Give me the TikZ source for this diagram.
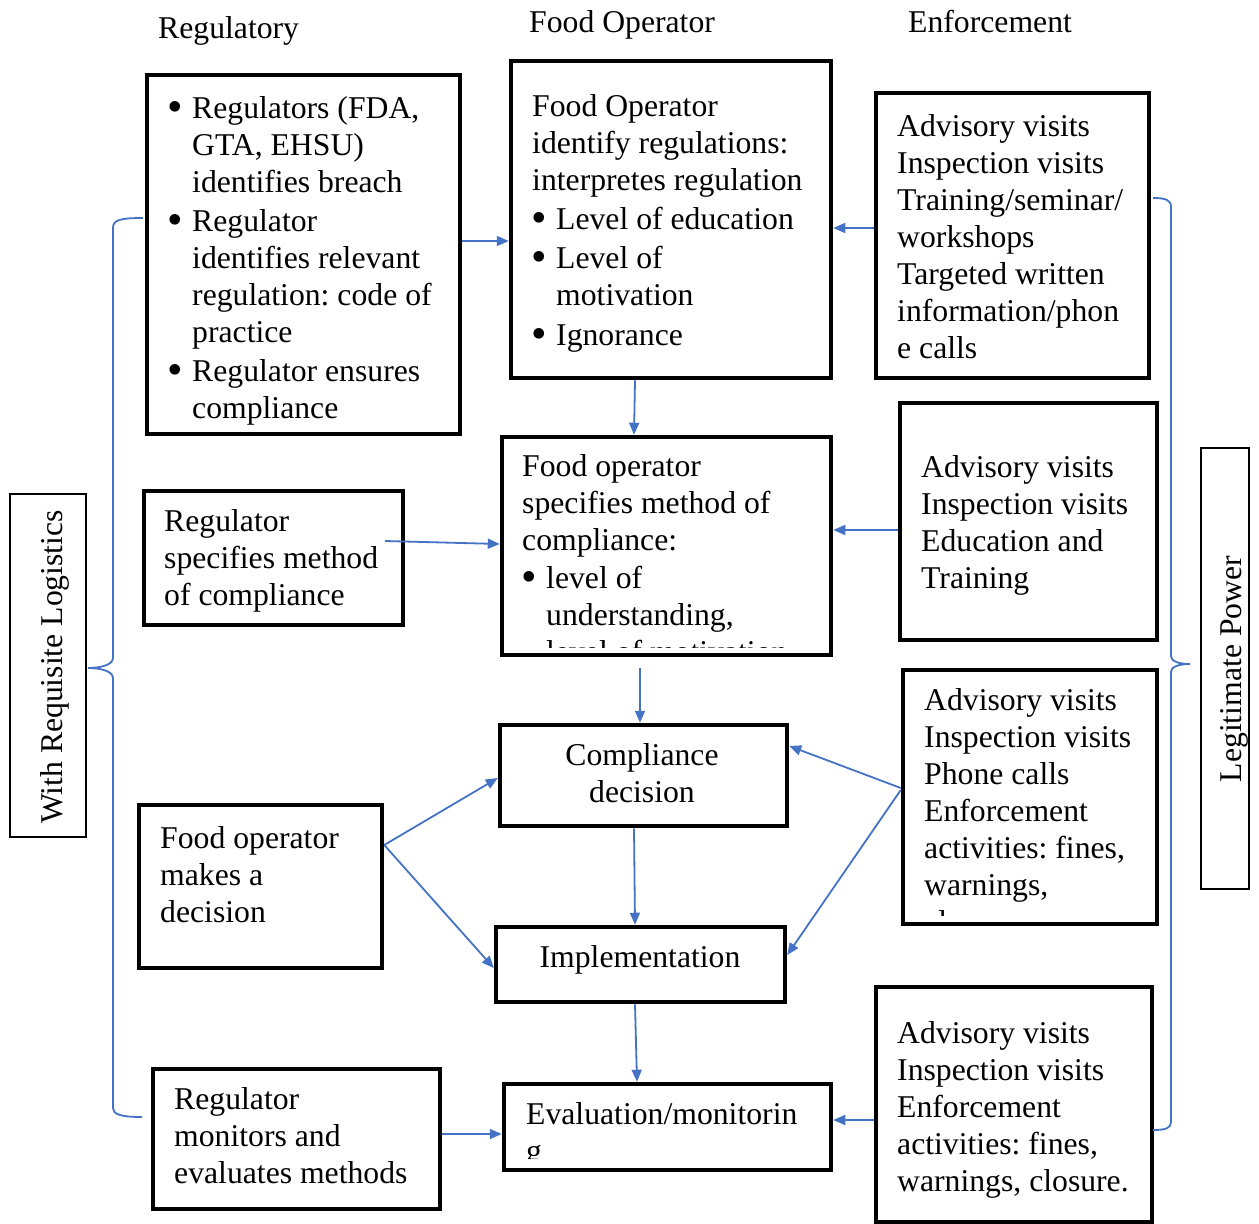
\documentclass[tikz,border=0pt]{standalone}
\usepackage{fontspec}
\setmainfont{Liberation Serif}
\usetikzlibrary{arrows.meta,fit}
\definecolor{arrowblue}{RGB}{68,114,196}
\frenchspacing
\newcommand\bul{\llap{\raisebox{-3.5pt}[0pt][0pt]{\scalebox{1.4}{\textbullet}}\hspace{9pt}}}
\newcommand\ind{\hspace*{24pt}}
\begin{document}
\begin{tikzpicture}[x=1pt,y=-1pt,
  frame/.style={draw=black,line width=4.5pt,inner sep=0pt},
  sideframe/.style={draw=black,line width=1.3pt,inner sep=0pt},
  txt/.style={anchor=north west,inner sep=0pt,align=left,font=\fontsize{31.7}{37}\selectfont},
  ctxt/.style={anchor=north,inner sep=0pt,align=center,font=\fontsize{31.7}{37}\selectfont},
  head/.style={anchor=base west,inner sep=0pt,font=\fontsize{31.7}{37}\selectfont},
  flow/.style={draw=arrowblue,line width=1.8pt,-{Triangle[length=12pt,width=10pt]}},
  brace/.style={draw=arrowblue,line width=1.8pt}]
\useasboundingbox (0,0) rectangle (1259,1224);

% column headings
\node[head] (hreg) at (158,38) {Regulatory};
\node[head] (hfood) at (529,32) {Food Operator};
\node[head] (henf) at (908,32) {Enforcement};

% boxes
\node[frame,fit={(147,75) (460,434)}] (b1) {};
\node[frame,fit={(511,61) (831,378)}] (b2) {};
\node[frame,fit={(876,93) (1149,378)}] (b3) {};
\node[frame,fit={(144,491) (403,625)}] (b4) {};
\node[frame,fit={(502,437) (831,655)}] (b5) {};
\node[frame,fit={(900,403) (1157,640)}] (b6) {};
\node[frame,fit={(500,725) (787,826)}] (b7) {};
\node[frame,fit={(139,805) (382,968)}] (b8) {};
\node[frame,fit={(496,927) (785,1002)}] (b9) {};
\node[frame,fit={(903,670) (1157,924)}] (b10) {};
\node[frame,fit={(153,1069) (440,1209)}] (b11) {};
\node[frame,fit={(504,1084) (831,1170)}] (b12) {};
\node[frame,fit={(876,987) (1152,1222)}] (b13) {};

% side frames
\node[sideframe,fit={(10,494) (86,837)}] (sl) {};
\node[sideframe,fit={(1201,448) (1249,889)}] (sr) {};
\node[anchor=base,rotate=90,inner sep=0pt,font=\fontsize{31.7}{37}\selectfont] (tl) at (62,667) {With Requisite Logistics};
\node[anchor=base,rotate=90,inner sep=0pt,font=\fontsize{31.7}{37}\selectfont] (tr) at (1241,669) {Legitimate Power};

% box texts
\node[txt] (t1) at (192,118-25.9) {\strut\bul Regulators (FDA,\\ GTA, EHSU)\\ identifies breach\\[2pt]
  \bul Regulator\\ identifies relevant\\ regulation: code of\\ practice\\[2pt]
  \bul Regulator ensures\\ compliance};
\node[txt] (t2) at (532,116-25.9) {\strut Food Operator\\ identify regulations:\\ interpretes regulation\\[2pt]
  \ind\bul Level of education\\[2pt] \ind\bul Level of\\ \ind motivation\\[3pt] \ind\bul Ignorance};
\node[txt] (t3) at (897,136-25.9) {\strut Advisory visits\\ Inspection visits\\ Training/seminar/\\ workshops\\
  Targeted written\\ information/phon\\ e calls};
\node[txt] (t4) at (164,531-25.9) {\strut Regulator\\ specifies method\\ of compliance};
\begin{scope}
  \clip (504,439) rectangle (829,647);
  \node[txt] (t5) at (522,476-25.9) {\strut Food operator\\ specifies method of\\ compliance:\\[1pt]
    \ind\bul level of\\ \ind understanding,\\ \ind level of motivation};
\end{scope}
\node[txt] (t6) at (921,477-25.9) {\strut Advisory visits\\ Inspection visits\\ Education and\\ Training};
\node[ctxt] (t7) at (642,765-25.9) {\strut Compliance\\ decision};
\node[txt] (t8) at (160,848-25.9) {\strut Food operator\\ makes a\\ decision};
\node[ctxt] (t9) at (640,967-25.9) {\strut Implementation};
\begin{scope}
  \clip (905,672) rectangle (1155,915);
  \node[txt] (t10) at (924,710-25.9) {\strut Advisory visits\\ Inspection visits\\ Phone calls\\ Enforcement\\
    activities: fines,\\ warnings,\\ closure.};
\end{scope}
\node[txt] (t11) at (174,1109-25.9) {\strut Regulator\\ monitors and\\ evaluates methods};
\begin{scope}
  \clip (506,1086) rectangle (829,1158);
  \node[txt] (t12) at (526,1124-25.9) {\strut Evaluation/monitorin\\ g};
\end{scope}
\node[txt] (t13) at (897,1043-25.9) {\strut Advisory visits\\ Inspection visits\\ Enforcement\\
  activities: fines,\\ warnings, closure.};

% connectors
\coordinate (b4out) at (385,541);
\coordinate (b5out) at (640,668);
\draw[flow] (b1.east |- 0,241) -- (b2.west |- 0,241);
\draw[flow] (b3.west |- 0,228) -- (b2.east |- 0,228);
\draw[flow] (b2.south -| 635,0) -- (b5.north -| 634,0);
\draw[flow] (b4out) -- (b5.west |- 0,544);
\draw[flow] (b6.west |- 0,530) -- (b5.east |- 0,530);
\draw[flow] (b5out) -- (b7.north -| 640,0);
\draw[flow] (b8.east |- 0,845) -- (b7.west |- 0,778);
\draw[flow] (b8.east |- 0,845) -- (b9.west |- 0,968);
\draw[flow] (b10.west |- 0,788) -- (b7.east |- 0,746);
\draw[flow] (b10.west |- 0,790) -- (b9.east |- 0,955);
\draw[flow] (b7.south -| 634,0) -- (b9.north -| 635,0);
\draw[flow] (b9.south -| 635,0) -- (b12.north -| 637,0);
\draw[flow] (b11.east |- 0,1134) -- (b12.west |- 0,1134);
\draw[flow] (b13.west |- 0,1120) -- (b12.east |- 0,1120);

% braces
\draw[brace] (143,218) .. controls (120,218) and (113,220) .. (113,228) -- (113,658)
  .. controls (113,665) and (100,668) .. (88,668)
  .. controls (100,668) and (113,671) .. (113,678) -- (113,1108)
  .. controls (113,1114) and (120,1117) .. (142,1117);
\draw[brace] (1153,198) .. controls (1166,198) and (1171,200) .. (1171,207) -- (1171,656)
  .. controls (1171,661) and (1178,664) .. (1190,664)
  .. controls (1178,664) and (1171,667) .. (1171,672) -- (1171,1122)
  .. controls (1171,1128) and (1166,1130) .. (1153,1130);
\end{tikzpicture}
\end{document}
